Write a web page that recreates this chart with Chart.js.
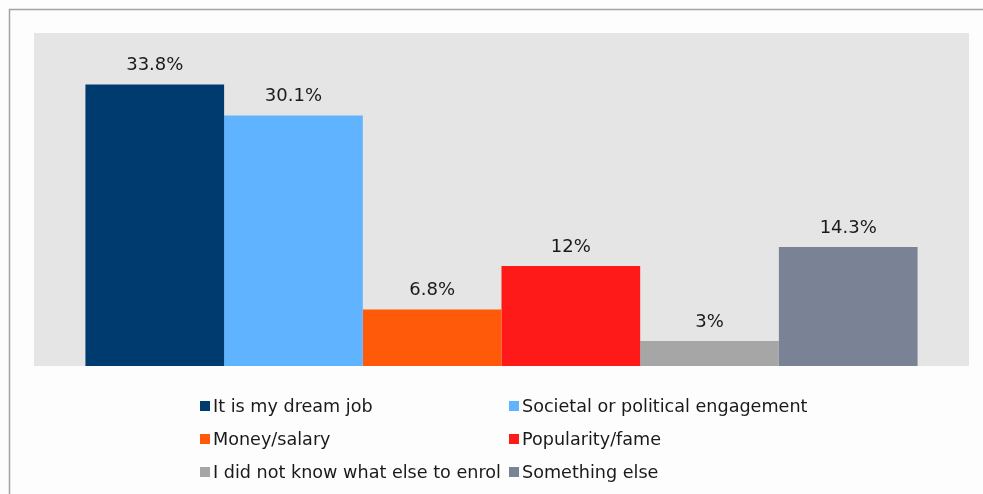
<!DOCTYPE html>
<html>
<head>
<meta charset="utf-8">
<script src="https://cdn.jsdelivr.net/npm/chart.js@4/dist/chart.umd.min.js"></script>
<style>
  html, body { margin: 0; padding: 0; background: #fdfdfd; }
  #wrap { position: relative; width: 983px; height: 494px; }
</style>
</head>
<body>
<div id="wrap"><canvas id="c" width="983" height="494"></canvas></div>
<script>
const categories = [""];
const seriesNames = [
  "It is my dream job",
  "Societal or political engagement",
  "Money/salary",
  "Popularity/fame",
  "I did not know what else to enrol",
  "Something else"
];
const seriesValues = [33.8, 30.1, 6.8, 12, 3, 14.3];
const seriesColors = ["#003B6F", "#60B4FF", "#FF5A0A", "#FF1A1A", "#A6A6A6", "#7A8296"];
const yMax = 40;

const FONT = "'DejaVu Sans', Verdana, sans-serif";

const decor = {
  id: 'decor',
  beforeDraw(chart) {
    const { ctx, chartArea: a } = chart;
    ctx.save();
    ctx.fillStyle = '#e5e5e5';
    ctx.fillRect(a.left, a.top, a.right - a.left, a.bottom - a.top);
    ctx.strokeStyle = '#a3a3a3';
    ctx.lineWidth = 1.5;
    ctx.beginPath();
    ctx.moveTo(9.5, 494);
    ctx.lineTo(9.5, 9.5);
    ctx.lineTo(983, 9.5);
    ctx.stroke();
    ctx.restore();
  },
  afterDraw(chart) {
    const { ctx } = chart;
    ctx.save();
    // value labels
    ctx.font = '18px ' + FONT;
    ctx.fillStyle = '#1a1a1a';
    ctx.textAlign = 'center';
    ctx.textBaseline = 'middle';
    chart.data.datasets.forEach((ds, i) => {
      const el = chart.getDatasetMeta(i).data[0];
      ctx.fillText(ds.data[0] + '%', el.x, el.y - 19);
    });
    // legend, 2 columns
    ctx.font = '17.6px ' + FONT;
    ctx.textAlign = 'left';
    const colX = [200, 509];
    const rowY = [406, 439, 472];
    chart.data.datasets.forEach((ds, i) => {
      const x = colX[i % 2], y = rowY[Math.floor(i / 2)];
      ctx.fillStyle = ds.backgroundColor;
      ctx.fillRect(x, y - 5, 10, 10);
      ctx.fillStyle = '#1a1a1a';
      ctx.fillText(ds.label, x + 13, y + 1);
    });
    ctx.restore();
  }
};

new Chart(document.getElementById('c'), {
  type: 'bar',
  data: {
    labels: categories,
    datasets: seriesNames.map((n, i) => ({
      label: n,
      data: [seriesValues[i]],
      backgroundColor: seriesColors[i],
      borderWidth: 0
    }))
  },
  options: {
    responsive: false,
    animation: false,
    devicePixelRatio: 1,
    layout: { padding: { left: 34, right: 14, top: 33, bottom: 128 } },
    categoryPercentage: 0.89,
    barPercentage: 1,
    plugins: { legend: { display: false }, tooltip: { enabled: false } },
    scales: {
      x: { display: false },
      y: { display: false, min: 0, max: yMax }
    }
  },
  plugins: [decor]
});
</script>
</body>
</html>
